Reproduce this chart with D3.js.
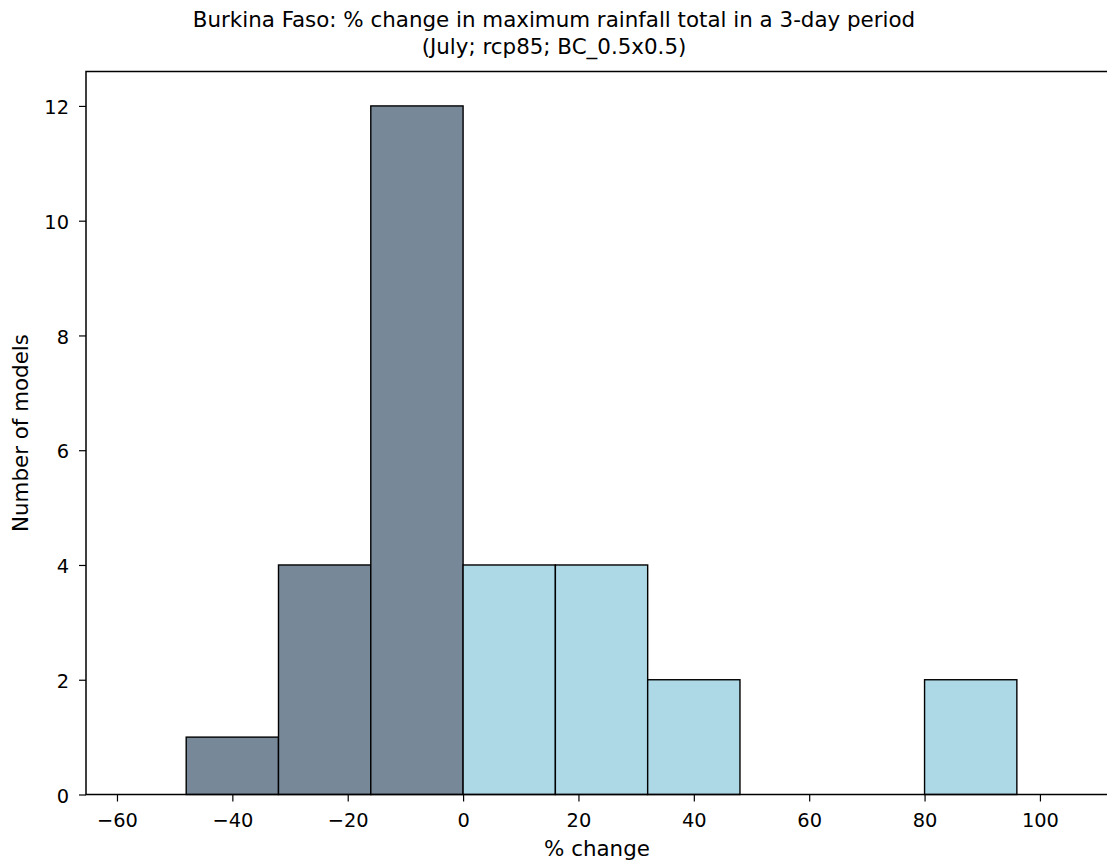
<!DOCTYPE html>
<html>
<head>
<meta charset="utf-8">
<script src="https://d3js.org/d3.v7.min.js"></script>
<style>
body { margin: 0; background: #fff; }
text { font-family: "DejaVu Sans", sans-serif; fill: #000; }
</style>
</head>
<body>
<svg id="chart" width="1107" height="865"></svg>
<script>
const binEdges = [-48, -32, -16, 0, 16, 32, 48, 64, 80, 96];
const counts = [1, 4, 12, 4, 4, 2, 0, 0, 2];
const xTicks = [-60, -40, -20, 0, 20, 40, 60, 80, 100];
const yTicks = [0, 2, 4, 6, 8, 10, 12];
const xDomain = [-65.37, 111.8];
const yDomain = [0, 12.6];
const titleLines = ["Burkina Faso: % change in maximum rainfall total in a 3-day period", "(July; rcp85; BC_0.5x0.5)"];
const xLabel = "% change";
const yLabel = "Number of models";
const negColor = "#778899";
const posColor = "#add8e6";

const svg = d3.select("#chart");
const L = 86, R = 1108, T = 71.5, B = 794.5;
const x = d3.scaleLinear().domain(xDomain).range([L, R]);
const y = d3.scaleLinear().domain(yDomain).range([B, T]);

const bins = counts.map((c, i) => ({x0: binEdges[i], x1: binEdges[i+1], c}));

svg.append("g").selectAll("rect").data(bins).join("rect")
  .attr("x", d => x(d.x0))
  .attr("y", d => y(d.c))
  .attr("width", d => x(d.x1) - x(d.x0))
  .attr("height", d => y(0) - y(d.c))
  .attr("fill", d => d.x0 < 0 ? negColor : posColor)
  .attr("stroke", "#000")
  .attr("stroke-width", 1.4);

// spines
svg.append("rect").attr("x", L).attr("y", T).attr("width", R - L).attr("height", B - T)
  .attr("fill", "none").attr("stroke", "#000").attr("stroke-width", 1.5);

const xAxis = svg.append("g").attr("transform", `translate(0,${B})`)
  .call(d3.axisBottom(x).tickValues(xTicks).tickSize(7).tickPadding(0)
    .tickFormat(d => d < 0 ? "\u2212" + Math.abs(d) : d));
xAxis.select(".domain").remove();
xAxis.selectAll("line").attr("stroke-width", 1.2);
xAxis.selectAll("text").attr("y", 0).attr("dy", null)
  .attr("transform", "translate(0,32.5)")
  .style("font-size", "19.4px").style("font-family", "DejaVu Sans");

const yAxis = svg.append("g").attr("transform", `translate(${L},0)`)
  .call(d3.axisLeft(y).tickValues(yTicks).tickSize(7).tickPadding(10));
yAxis.select(".domain").remove();
yAxis.selectAll("line").attr("stroke-width", 1.2);
yAxis.selectAll("text").attr("dy", "0.4em")
  .style("font-size", "19.4px").style("font-family", "DejaVu Sans");

svg.append("text").attr("x", (L + R) / 2).attr("y", 856).attr("text-anchor", "middle")
  .style("font-size", "21.4px").text(xLabel);
svg.append("text").attr("transform", `translate(28,${(T + B) / 2}) rotate(-90)`)
  .attr("text-anchor", "middle").style("font-size", "21.4px").text(yLabel);

svg.append("g").selectAll("text").data(titleLines).join("text")
  .attr("x", 554).attr("y", (d, i) => 27 + i * 26.5)
  .attr("text-anchor", "middle").style("font-size", "21.4px").text(d => d);
</script>
</body>
</html>
